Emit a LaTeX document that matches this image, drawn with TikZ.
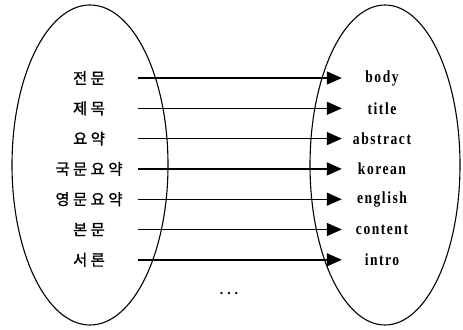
\documentclass[tikz,border=0pt]{standalone}
\usepackage{fontspec}
\setmainfont{Liberation Serif}
\newfontfamily\kofont[LetterSpace=22,FakeBold=1.2]{Noto Sans CJK KR}
\newfontfamily\enfont[LetterSpace=9,FakeStretch=0.8]{Liberation Serif}
\usetikzlibrary{arrows.meta,shapes.geometric}
\begin{document}
\begin{tikzpicture}[x=1bp,y=1bp,
  setel/.style={draw,line width=1.1bp,ellipse,inner sep=0pt},
  kolabel/.style={inner sep=0pt,minimum width=98bp,minimum height=14bp,align=center,font=\kofont\fontsize{15.5}{15.5}\selectfont},
  enlabel/.style={inner sep=0pt,minimum width=80bp,minimum height=14bp,align=center,font=\enfont\bfseries\fontsize{17}{17}\selectfont},
  maparrow/.style={line width=1.4bp,-{Triangle[length=15bp,width=13bp]}}]
\useasboundingbox (0,0) rectangle (463,329);
\node[setel,minimum width=156bp,minimum height=320bp] (A) at (90,164) {};
\node[setel,minimum width=150bp,minimum height=320bp] (B) at (385,164) {};
\foreach \i/\ko/\en [count=\n] in {0/전문/body,1/제목/title,2/요약/abstract,3/국문요약/korean,4/영문요약/english,5/본문/content,6/서론/intro}{
  \node[kolabel] (k\n) at (89,{251-30.3*\i}) {\ko};
  \node[enlabel] (e\n) at (382,{251-30.3*\i}) {\en};
  \draw[maparrow] (k\n.east) -- (e\n.west);
}
\node[inner sep=0pt,font=\bfseries\fontsize{14}{14}\selectfont] (dots) at (229,35) {.\hspace{4bp}.\hspace{4bp}.};
\end{tikzpicture}
\end{document}
